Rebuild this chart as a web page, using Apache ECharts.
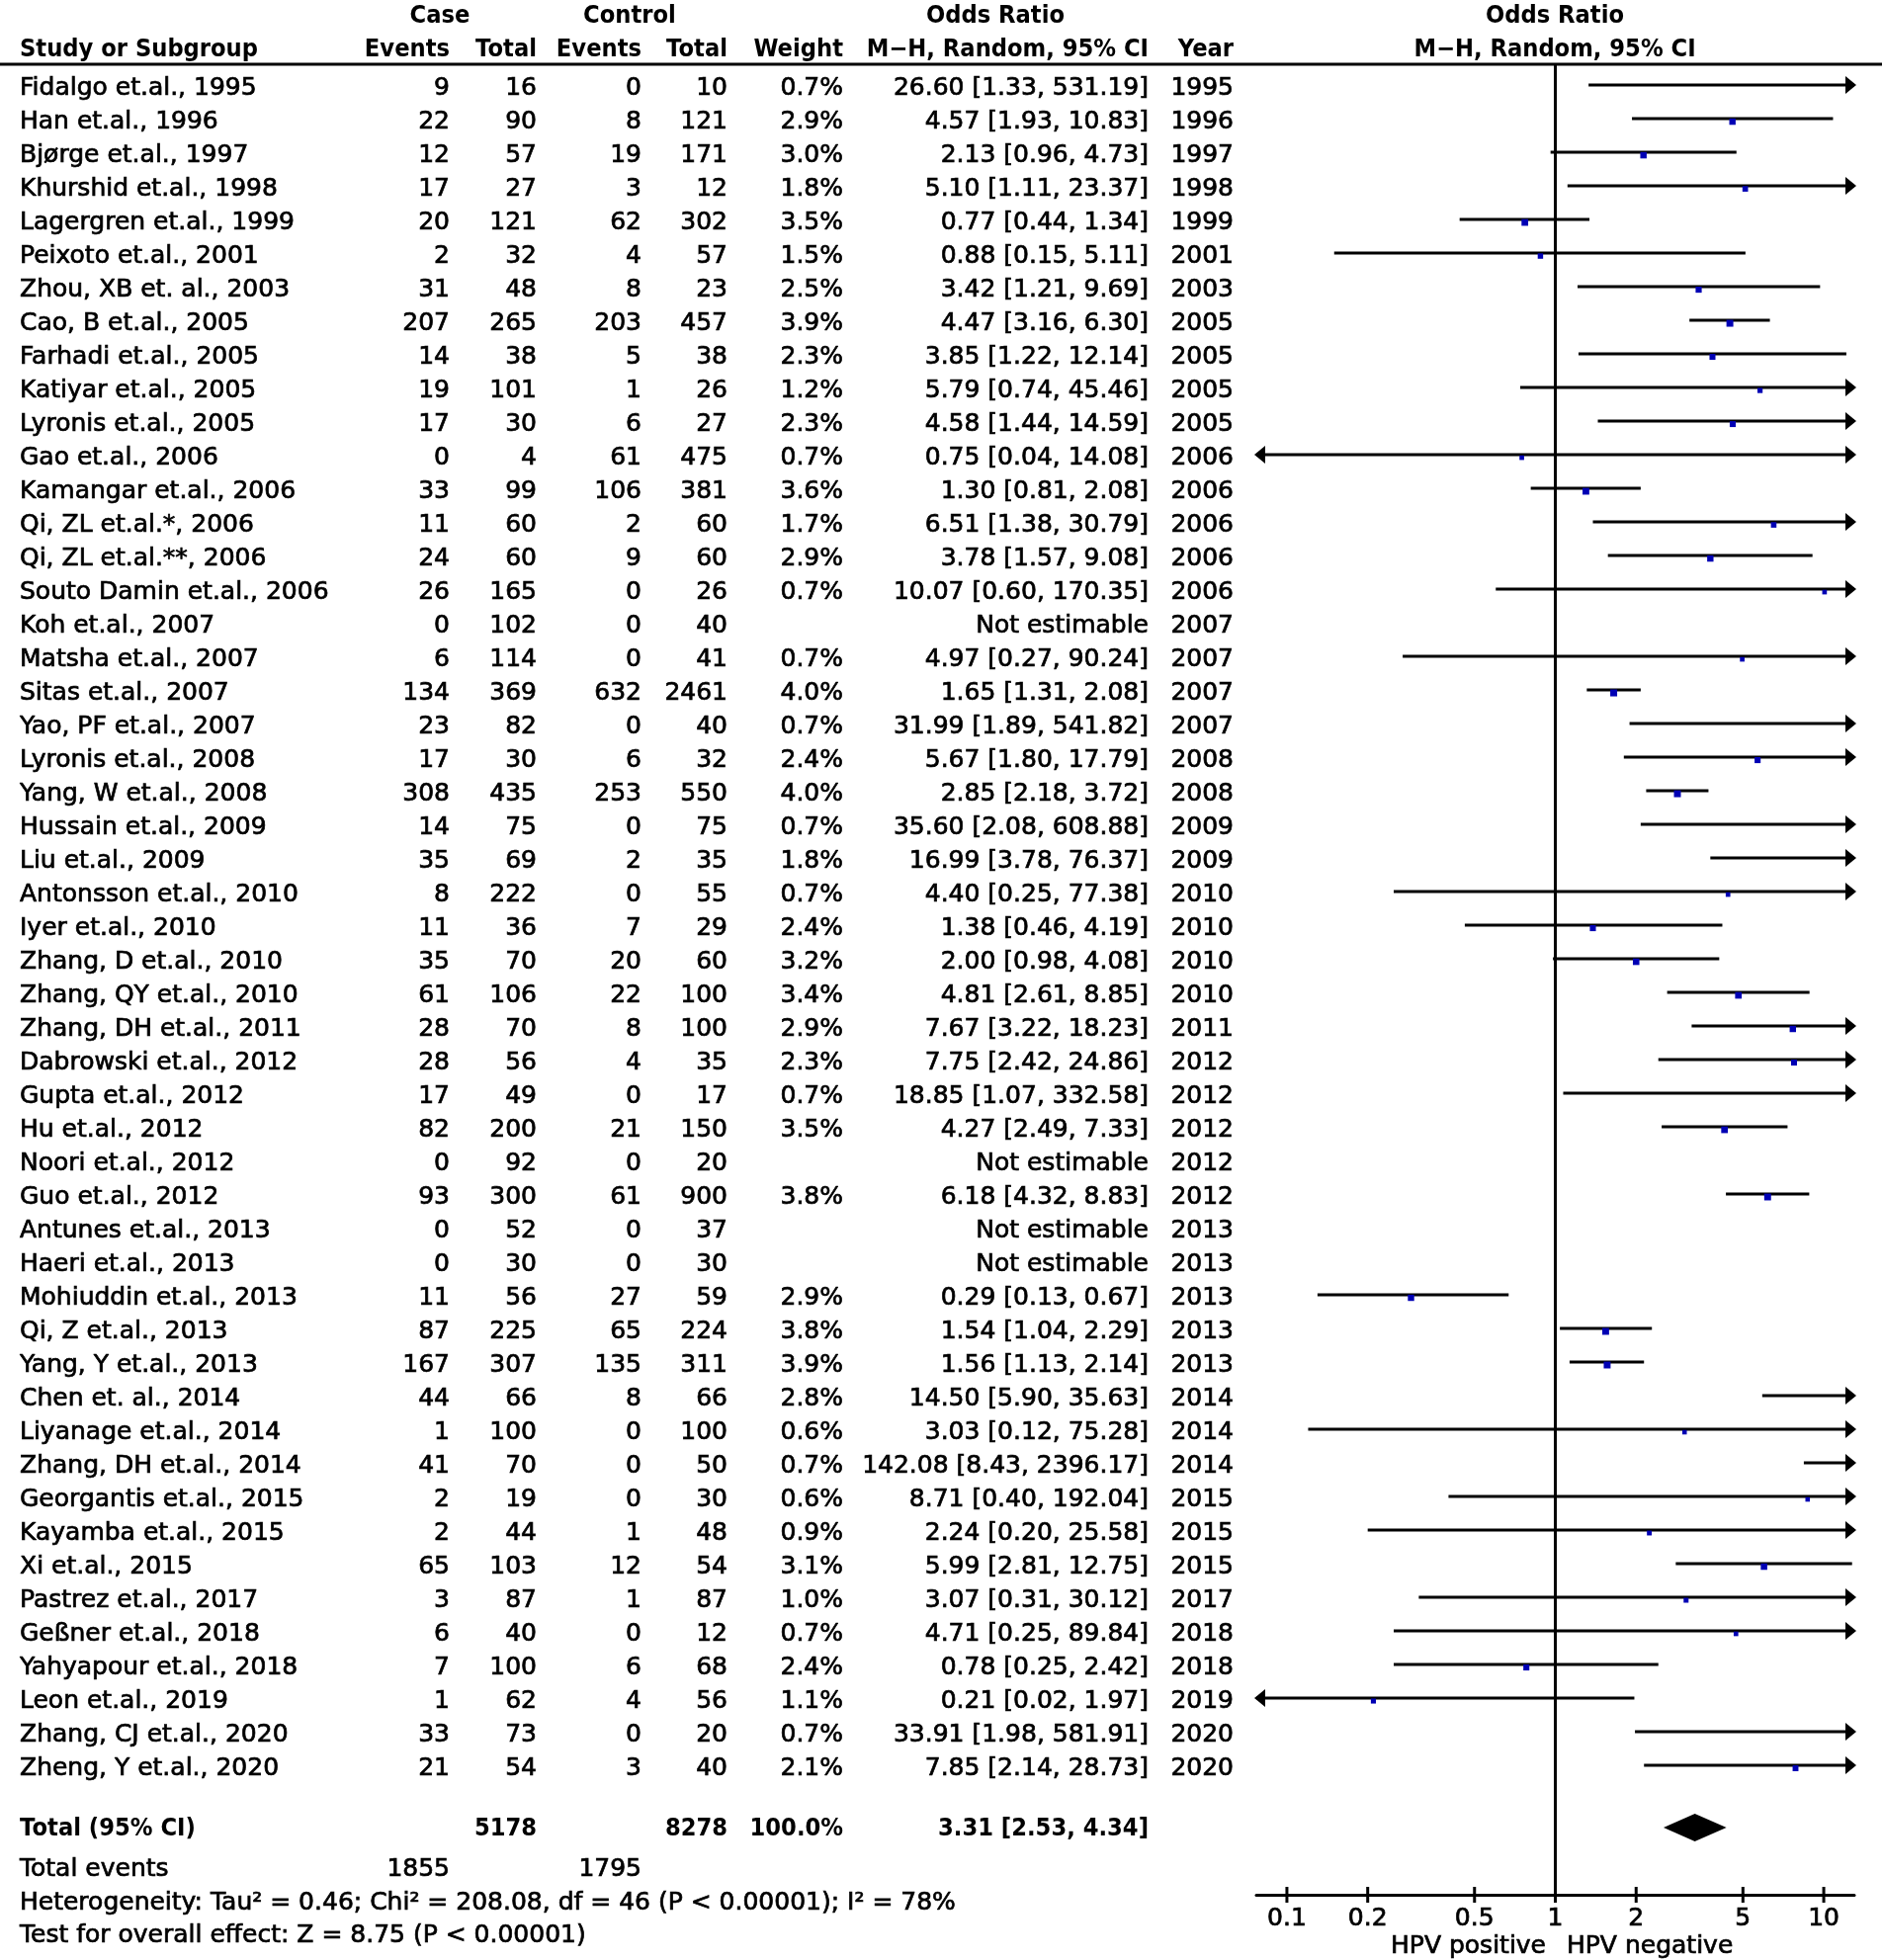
<!DOCTYPE html>
<html><head><meta charset="utf-8">
<script src="https://cdn.jsdelivr.net/npm/echarts@6/dist/echarts.min.js"></script>
<style>html,body{margin:0;padding:0;background:#fff}#c{width:1904px;height:1983px}</style>
</head><body><div id="c"></div>
<script>
const studies = ['Fidalgo et.al., 1995','Han et.al., 1996','Bjørge et.al., 1997','Khurshid et.al., 1998','Lagergren et.al., 1999','Peixoto et.al., 2001','Zhou, XB et. al., 2003','Cao, B et.al., 2005','Farhadi et.al., 2005','Katiyar et.al., 2005','Lyronis et.al., 2005','Gao et.al., 2006','Kamangar et.al., 2006','Qi, ZL et.al.*, 2006','Qi, ZL et.al.**, 2006','Souto Damin et.al., 2006','Koh et.al., 2007','Matsha et.al., 2007','Sitas et.al., 2007','Yao, PF et.al., 2007','Lyronis et.al., 2008','Yang, W et.al., 2008','Hussain et.al., 2009','Liu et.al., 2009','Antonsson et.al., 2010','Iyer et.al., 2010','Zhang, D et.al., 2010','Zhang, QY et.al., 2010','Zhang, DH et.al., 2011','Dabrowski et.al., 2012','Gupta et.al., 2012','Hu et.al., 2012','Noori et.al., 2012','Guo et.al., 2012','Antunes et.al., 2013','Haeri et.al., 2013','Mohiuddin et.al., 2013','Qi, Z et.al., 2013','Yang, Y et.al., 2013','Chen et. al., 2014','Liyanage et.al., 2014','Zhang, DH et.al., 2014','Georgantis et.al., 2015','Kayamba et.al., 2015','Xi et.al., 2015','Pastrez et.al., 2017','Geßner et.al., 2018','Yahyapour et.al., 2018','Leon et.al., 2019','Zhang, CJ et.al., 2020','Zheng, Y et.al., 2020'];
const caseEvents = [9,22,12,17,20,2,31,207,14,19,17,0,33,11,24,26,0,6,134,23,17,308,14,35,8,11,35,61,28,28,17,82,0,93,0,0,11,87,167,44,1,41,2,2,65,3,6,7,1,33,21];
const caseTotal = [16,90,57,27,121,32,48,265,38,101,30,4,99,60,60,165,102,114,369,82,30,435,75,69,222,36,70,106,70,56,49,200,92,300,52,30,56,225,307,66,100,70,19,44,103,87,40,100,62,73,54];
const ctrlEvents = [0,8,19,3,62,4,8,203,5,1,6,61,106,2,9,0,0,0,632,0,6,253,0,2,0,7,20,22,8,4,0,21,0,61,0,0,27,65,135,8,0,0,0,1,12,1,0,6,4,0,3];
const ctrlTotal = [10,121,171,12,302,57,23,457,38,26,27,475,381,60,60,26,40,41,2461,40,32,550,75,35,55,29,60,100,100,35,17,150,20,900,37,30,59,224,311,66,100,50,30,48,54,87,12,68,56,20,40];
const weights = [0.7,2.9,3.0,1.8,3.5,1.5,2.5,3.9,2.3,1.2,2.3,0.7,3.6,1.7,2.9,0.7,null,0.7,4.0,0.7,2.4,4.0,0.7,1.8,0.7,2.4,3.2,3.4,2.9,2.3,0.7,3.5,null,3.8,null,null,2.9,3.8,3.9,2.8,0.6,0.7,0.6,0.9,3.1,1.0,0.7,2.4,1.1,0.7,2.1];
const oddsRatio = [26.60,4.57,2.13,5.10,0.77,0.88,3.42,4.47,3.85,5.79,4.58,0.75,1.30,6.51,3.78,10.07,null,4.97,1.65,31.99,5.67,2.85,35.60,16.99,4.40,1.38,2.00,4.81,7.67,7.75,18.85,4.27,null,6.18,null,null,0.29,1.54,1.56,14.50,3.03,142.08,8.71,2.24,5.99,3.07,4.71,0.78,0.21,33.91,7.85];
const ciLower = [1.33,1.93,0.96,1.11,0.44,0.15,1.21,3.16,1.22,0.74,1.44,0.04,0.81,1.38,1.57,0.60,null,0.27,1.31,1.89,1.80,2.18,2.08,3.78,0.25,0.46,0.98,2.61,3.22,2.42,1.07,2.49,null,4.32,null,null,0.13,1.04,1.13,5.90,0.12,8.43,0.40,0.20,2.81,0.31,0.25,0.25,0.02,1.98,2.14];
const ciUpper = [531.19,10.83,4.73,23.37,1.34,5.11,9.69,6.30,12.14,45.46,14.59,14.08,2.08,30.79,9.08,170.35,null,90.24,2.08,541.82,17.79,3.72,608.88,76.37,77.38,4.19,4.08,8.85,18.23,24.86,332.58,7.33,null,8.83,null,null,0.67,2.29,2.14,35.63,75.28,2396.17,192.04,25.58,12.75,30.12,89.84,2.42,1.97,581.91,28.73];
const years = [1995,1996,1997,1998,1999,2001,2003,2005,2005,2005,2005,2006,2006,2006,2006,2006,2007,2007,2007,2007,2008,2008,2009,2009,2010,2010,2010,2010,2011,2012,2012,2012,2012,2012,2013,2013,2013,2013,2013,2014,2014,2014,2015,2015,2015,2017,2018,2018,2019,2020,2020];
const totalCaseN = 5178, totalCtrlN = 8278, totalWeight = '100.0%';
const totalCaseEvents = 1855, totalCtrlEvents = 1795;
const pooledOR = [3.31], pooledLower = [2.53], pooledUpper = [4.34];
const axisTicks = [0.1, 0.2, 0.5, 1, 2, 5, 10];
const axisTickLabels = ['0.1','0.2','0.5','1','2','5','10'];
const heterogeneityText = 'Heterogeneity: Tau² = 0.46; Chi² = 208.08, df = 46 (P < 0.00001); I² = 78%';
const overallText = 'Test for overall effect: Z = 8.75 (P < 0.00001)';
const favourLeft = 'HPV positive', favourRight = 'HPV negative';

const AX_MIN = 1/13, AX_MAX = 13;
const Y_MIN = -0.62, Y_MAX = 53.853;
const TOTAL_ROW = 51.85;
const FONT = '"DejaVu Sans"';
const REG = '25px ' + FONT, BOLD = 'bold 24px ' + FONT;
const BLUE = '#0000b4';
const TY = 3;

function fmt2(v){ return v.toFixed(2); }

const forestData = [];
oddsRatio.forEach((o, i) => { if (o != null) forestData.push([o, i, ciLower[i], ciUpper[i], weights[i]]); });
const tableData = studies.map((s, i) => [1, i]);

function txt(x, y, text, align){
  return {type:'text', x:x, y:y + TY, style:{text:text, font:REG, fill:'#000', stroke:'#000', lineWidth:0.7, align:align||'left', verticalAlign:'middle'}};
}
function btxt(x, y, text, align){
  return {type:'text', x:x, y:y + TY, scaleX:0.945, style:{text:text, font:BOLD, fill:'#000', align:align||'left', verticalAlign:'middle'}};
}

const COL = {study:20, ce:455, ct:543, xe:649, xt:736, w:853, or:1162, yr:1248};

function renderTable(params, api){
  const i = api.value(1);
  const y = api.coord([1, i])[1];
  const o = oddsRatio[i];
  const orTxt = o == null ? 'Not estimable' : fmt2(o) + ' [' + fmt2(ciLower[i]) + ', ' + fmt2(ciUpper[i]) + ']';
  return {type:'group', children:[
    txt(COL.study, y, studies[i], 'left'),
    txt(COL.ce, y, String(caseEvents[i]), 'right'),
    txt(COL.ct, y, String(caseTotal[i]), 'right'),
    txt(COL.xe, y, String(ctrlEvents[i]), 'right'),
    txt(COL.xt, y, String(ctrlTotal[i]), 'right'),
    txt(COL.w, y, weights[i] == null ? '' : weights[i].toFixed(1) + '%', 'right'),
    txt(COL.or, y, orTxt, 'right'),
    txt(COL.yr, y, String(years[i]), 'right')
  ]};
}

function renderForest(params, api){
  const o = api.value(0), row = api.value(1), lo = api.value(2), hi = api.value(3), w = api.value(4);
  const y = api.coord([1, row])[1];
  const x1 = api.coord([Math.max(lo, AX_MIN), row])[0];
  const x2 = api.coord([Math.min(hi, AX_MAX), row])[0];
  const ch = [{type:'line', shape:{x1:x1, y1:y, x2:x2, y2:y}, style:{stroke:'#000', lineWidth:3}}];
  if (hi > AX_MAX) ch.push({type:'polygon', shape:{points:[[x2+2, y],[x2-9, y-9],[x2-9, y+9]]}, style:{fill:'#000'}});
  if (lo < AX_MIN) ch.push({type:'polygon', shape:{points:[[x1-2, y],[x1+9, y-9],[x1+9, y+9]]}, style:{fill:'#000'}});
  if (o >= AX_MIN && o <= AX_MAX){
    const xc = api.coord([o, row])[0];
    const s = 3 + 2*Math.sqrt(w);
    ch.push({type:'rect', shape:{x:xc - s/2, y:y + 3 - s/2, width:s, height:s}, style:{fill:BLUE}});
  }
  return {type:'group', children:ch};
}

function renderDiamond(params, api){
  const o = api.value(0), row = api.value(1), lo = api.value(2), hi = api.value(3);
  const p = api.coord([o, row]);
  const xl = api.coord([lo, row])[0], xr = api.coord([hi, row])[0];
  return {type:'polygon', shape:{points:[[xl, p[1]],[p[0], p[1]-14],[xr, p[1]],[p[0], p[1]+14]]}, style:{fill:'#000'}};
}

function renderRef(params, api){
  const a = api.coord([api.value(0), Y_MIN]), b = api.coord([api.value(0), Y_MAX]);
  return {type:'line', shape:{x1:a[0], y1:a[1], x2:b[0], y2:b[1]}, style:{stroke:'#000', lineWidth:3}};
}

function renderTicks(params, api){
  const p = api.coord([api.value(0), Y_MAX]);
  return {type:'group', children:[
    {type:'line', shape:{x1:p[0], y1:p[1]-8, x2:p[0], y2:p[1]+8}, style:{stroke:'#000', lineWidth:3}},
    txt(p[0], p[1]+21, axisTickLabels[params.dataIndex], 'center')
  ]};
}

const chart = echarts.init(document.getElementById('c'), null, {renderer:'canvas'});
chart.setOption({
  animation:false,
  backgroundColor:'#fff',
  textStyle:{fontFamily:'DejaVu Sans'},
  grid:{left:1271, right:28, top:65, bottom:66},
  xAxis:{type:'log', logBase:10, min:AX_MIN, max:AX_MAX,
    axisLine:{show:true, onZero:false, lineStyle:{color:'#000', width:3}}, axisTick:{show:false}, axisLabel:{show:false}, splitLine:{show:false}},
  yAxis:{type:'value', inverse:true, min:Y_MIN, max:Y_MAX, show:false, splitLine:{show:false}},
  series:[
    {type:'custom', name:'table', clip:false, silent:true, data:tableData, encode:{x:0, y:1}, renderItem:renderTable},
    {type:'custom', name:'ref', clip:false, silent:true, data:[[1, 0]], encode:{x:0, y:1}, renderItem:renderRef},
    {type:'custom', name:'studies', clip:false, silent:true, data:forestData, encode:{x:0, y:1}, renderItem:renderForest},
    {type:'custom', name:'pooled', clip:false, silent:true, data:[[pooledOR[0], TOTAL_ROW, pooledLower[0], pooledUpper[0]]], encode:{x:0, y:1}, renderItem:renderDiamond},
    {type:'custom', name:'ticks', clip:false, silent:true, data:axisTicks.map(t => [t, Y_MAX]), encode:{x:0, y:1}, renderItem:renderTicks}
  ],
  graphic:[
    {type:'line', shape:{x1:0, y1:65, x2:1904, y2:65}, style:{stroke:'#000', lineWidth:3}},
    btxt(445, 14, 'Case', 'center'),
    btxt(637, 14, 'Control', 'center'),
    btxt(1007, 14, 'Odds Ratio', 'center'),
    btxt(1573, 14, 'Odds Ratio', 'center'),
    btxt(20, 48, 'Study or Subgroup', 'left'),
    btxt(455, 48, 'Events', 'right'),
    btxt(543, 48, 'Total', 'right'),
    btxt(649, 48, 'Events', 'right'),
    btxt(736, 48, 'Total', 'right'),
    btxt(853, 48, 'Weight', 'right'),
    btxt(1162, 48, 'M−H, Random, 95% CI', 'right'),
    btxt(1248, 48, 'Year', 'right'),
    btxt(1573, 48, 'M−H, Random, 95% CI', 'center'),
    btxt(20, 1848, 'Total (95% CI)', 'left'),
    btxt(543, 1848, String(totalCaseN), 'right'),
    btxt(736, 1848, String(totalCtrlN), 'right'),
    btxt(853, 1848, totalWeight, 'right'),
    btxt(1162, 1848, fmt2(pooledOR[0]) + ' [' + fmt2(pooledLower[0]) + ', ' + fmt2(pooledUpper[0]) + ']', 'right'),
    txt(20, 1888, 'Total events', 'left'),
    txt(455, 1888, String(totalCaseEvents), 'right'),
    txt(649, 1888, String(totalCtrlEvents), 'right'),
    txt(20, 1922, heterogeneityText, 'left'),
    txt(20, 1955, overallText, 'left'),
    txt(1564, 1966, favourLeft, 'right'),
    txt(1585, 1966, favourRight, 'left')
  ]
});
</script>
</body></html>
